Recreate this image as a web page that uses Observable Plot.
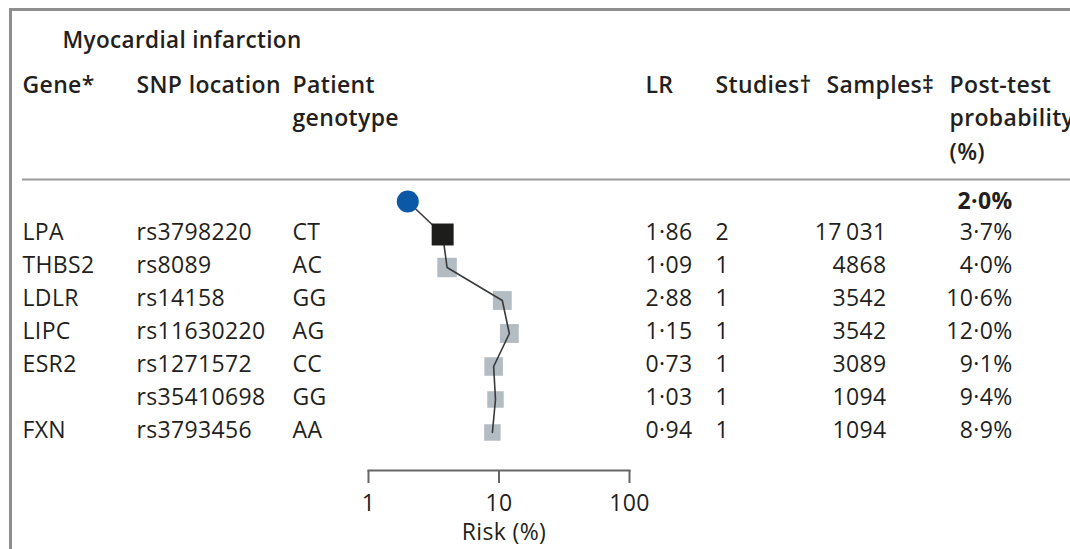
<!DOCTYPE html>
<html>
<head>
<meta charset="utf-8">
<script src="https://cdn.jsdelivr.net/npm/d3@7"></script>
<script src="https://cdn.jsdelivr.net/npm/@observablehq/plot@0.6"></script>
<style>
  html, body { margin: 0; padding: 0; background: #fff; overflow: hidden; }
  #wrap { position: relative; width: 1070px; height: 549px; }
  #border { position: absolute; left: 9px; top: 8px; width: 1200px; height: 700px;
            border-left: 3px solid #8e8e8e; border-top: 3px solid #8e8e8e; pointer-events: none; }
</style>
</head>
<body>
<div id="wrap"><div id="border"></div></div>
<script>
// ---- data ----
const title = "Myocardial infarction";
const genes = ["LPA", "THBS2", "LDLR", "LIPC", "ESR2", "", "FXN"];
const snps = ["rs3798220", "rs8089", "rs14158", "rs11630220", "rs1271572", "rs35410698", "rs3793456"];
const genotypes = ["CT", "AC", "GG", "AG", "CC", "GG", "AA"];
const lrs = [1.86, 1.09, 2.88, 1.15, 0.73, 1.03, 0.94];
const studies = [2, 1, 1, 1, 1, 1, 1];
const samples = [17031, 4868, 3542, 3542, 3089, 1094, 1094];
const postTest = [3.7, 4.0, 10.6, 12.0, 9.1, 9.4, 8.9];
const preTest = 2.0;
const riskTicks = [1, 10, 100];
const axisLabel = "Risk (%)";
const headerLines = [
  ["Gene*", "SNP location", "Patient", "LR", "Studies\u2020", "Samples\u2021", "Post-test"],
  ["", "", "genotype", "", "", "", "probability"],
  ["", "", "", "", "", "", "(%)"]
];

// ---- layout (styles / positions) ----
const W = 1070, H = 549;
const mL = 368, mR = 441, mT = 0, mB = 79;
const headX = [22, 136, 292, 645, 715, 826, 949];   // header left edges
const colX = [22, 136, 292, 645, 715, 886, 1012];   // body: left edges (samples & probability: right edges)
const ink = "#231f20";
const fs = 23;

const rows = genes.map((g, i) => ({
  row: i + 1, gene: g, snp: snps[i], geno: genotypes[i], lr: lrs[i],
  studies: studies[i], samples: samples[i], post: postTest[i]
}));
const path = [{row: 0, post: preTest}, ...rows];

const dec = (v, p) => d3.format(`.${p}f`)(v).replace(".", "\u00b7");
const fmtN = n => n >= 10000 ? d3.format(",")(n).replace(",", "\u2009") : String(n);

const headers = [];
headerLines.forEach((line, li) => line.forEach((t, ci) => { if (t) headers.push({t, ci, li}); }));

const colText = (accessor, ci, opts = {}) => Plot.text(rows, {
  y: "row", text: accessor, frameAnchor: "left", dx: colX[ci] - mL, dy: -1.5,
  textAnchor: "start", lineAnchor: "middle", fill: ink, fontSize: fs, ...opts
});

const chart = Plot.plot({
  width: W, height: H,
  marginLeft: mL, marginRight: mR, marginTop: mT, marginBottom: mB,
  style: {fontFamily: "'Open Sans', sans-serif", fontSize: fs + "px", color: ink,
          background: "transparent", letterSpacing: "0.35px"},
  x: {type: "log", domain: [1, 100]},
  y: {domain: [0, 7], range: [201, 432], axis: null},
  r: {type: "log", domain: [1094, 17031], range: [9.3, 12.4]},
  marks: [
    // title & headers
    Plot.text([title], {frameAnchor: "top-left", dx: 62 - mL, dy: 40, textAnchor: "start",
      lineAnchor: "middle", fill: ink, fontSize: 22.5, fontWeight: 600}),
    ...headers.map(h => Plot.text([h.t], {frameAnchor: "top-left", dx: headX[h.ci] - mL,
      dy: 85 + h.li * 33.5, textAnchor: "start", lineAnchor: "middle", fill: ink, fontSize: fs, fontWeight: 600})),
    Plot.ruleY([0], {dy: -22, insetLeft: -(mL - 22), insetRight: -mR, stroke: "#9a9a9a", strokeWidth: 2}),
    // table columns
    colText("gene", 0),
    colText("snp", 1),
    colText("geno", 2),
    colText(d => dec(d.lr, 2), 3),
    colText(d => String(d.studies), 4),
    colText(d => fmtN(d.samples), 5, {textAnchor: "end"}),
    colText(d => dec(d.post, 1) + "%", 6, {textAnchor: "end"}),
    Plot.text([preTest], {y: () => 0, text: d => dec(d, 1) + "%", frameAnchor: "left",
      dx: colX[6] - mL, textAnchor: "end", lineAnchor: "middle", fill: ink, fontSize: fs, fontWeight: 700}),
    // forest
    Plot.dot(rows, {filter: d => d.row > 1, x: "post", y: "row", r: "samples", symbol: "square", fill: "#b3bbc3"}),
    Plot.line(path, {x: "post", y: "row", stroke: "#3a3a3a", strokeWidth: 1.6}),
    Plot.dot(rows, {filter: d => d.row === 1, x: "post", y: "row", r: "samples", symbol: "square", fill: "#1d1d1b"}),
    Plot.dot([preTest], {x: d => d, y: () => 0, r: 11, fill: "#0a58a6"}),
    // axis
    Plot.frame({anchor: "bottom", stroke: "#666", strokeWidth: 2}),
    Plot.axisX({ticks: riskTicks, tickSize: 13, tickPadding: 11, tickFormat: d => String(d),
      stroke: "#666", strokeWidth: 2, fill: ink, fontSize: fs, label: null}),
    Plot.text([axisLabel], {frameAnchor: "bottom", dx: 5, dy: 62, lineAnchor: "middle", fill: ink, fontSize: fs})
  ]
});
document.getElementById("wrap").prepend(chart);
</script>
</body>
</html>
